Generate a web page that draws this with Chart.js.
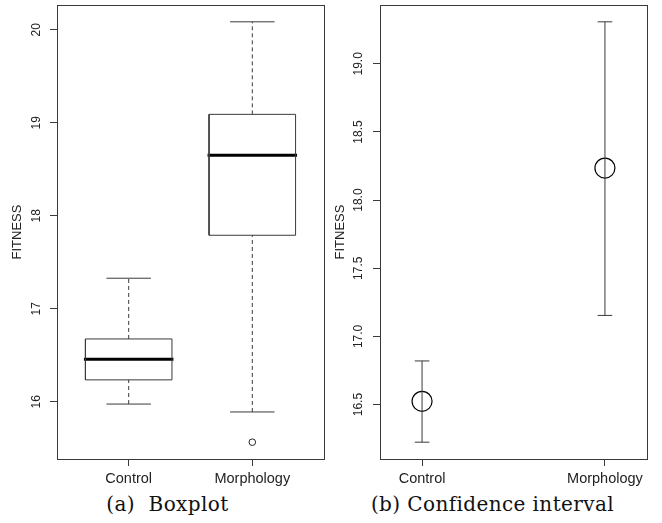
<!DOCTYPE html>
<html>
<head>
<meta charset="utf-8">
<script src="https://cdn.jsdelivr.net/npm/chart.js@4/dist/chart.umd.min.js"></script>
<style>
  body { margin: 0; background: #fff; }
  #wrap { position: relative; width: 662px; height: 523px; background: #fff; }
  canvas { position: absolute; top: 0; }
  .caption {
    position: absolute;
    top: 491px;
    width: 331px;
    text-align: center;
    font-family: "DejaVu Serif", serif;
    font-size: 20px;
    letter-spacing: 0.4px;
    line-height: 26px;
    color: #111;
  }
</style>
</head>
<body>
<div id="wrap">
  <canvas id="boxChart" width="331" height="490" style="left:0"></canvas>
  <canvas id="ciChart" width="331" height="490" style="left:331px"></canvas>
  <div class="caption" style="left:2px">(a)&nbsp; Boxplot</div>
  <div class="caption" style="left:327px">(b) Confidence interval</div>
</div>

<script>
const categories = ["Control", "Morphology"];

// boxplot (a)
const whiskerLow = [15.975, 15.89];
const boxQ1 = [16.235, 17.79];
const boxMedian = [16.457, 18.65];
const boxQ3 = [16.675, 19.09];
const whiskerHigh = [17.328, 20.085];
const outliers = [[], [15.565]];
const boxTicks = [16, 17, 18, 19, 20];

// confidence interval (b)
const ciMean = [16.524, 18.235];
const ciLower = [16.224, 17.154];
const ciUpper = [16.82, 19.308];
const ciTicks = [16.5, 17.0, 17.5, 18.0, 18.5, 19.0];

const lineColor = "#3a3a3a";
const sansFont = "'Liberation Sans', Arial, sans-serif";

Chart.defaults.font.family = sansFont;
Chart.defaults.color = "#222";

// frame round the plot region + vertical y tick labels, R style
const framePlugin = {
  id: "frame",
  afterDraw(chart, args, opts) {
    const { ctx, chartArea: a } = chart;
    const y = chart.scales.y;
    ctx.save();
    ctx.strokeStyle = lineColor;
    ctx.lineWidth = 1;
    ctx.strokeRect(a.left + 0.5, a.top + 0.5, a.right - a.left, a.bottom - a.top);
    ctx.font = "12px " + sansFont;
    ctx.fillStyle = "#222";
    ctx.textAlign = "center";
    ctx.textBaseline = "middle";
    y.ticks.forEach((t) => {
      const py = y.getPixelForValue(t.value);
      ctx.save();
      ctx.translate(opts.labelX, py);
      ctx.rotate(-Math.PI / 2);
      ctx.fillText(t.value.toFixed(opts.decimals), 0, 0);
      ctx.restore();
    });
    ctx.restore();
  },
};

function seg(points, extra) {
  return Object.assign(
    {
      data: points,
      showLine: true,
      pointRadius: 0,
      borderColor: lineColor,
      borderWidth: 1,
      fill: false,
    },
    extra || {}
  );
}

function paddedRange(values) {
  const lo = Math.min(...values);
  const hi = Math.max(...values);
  const pad = (hi - lo) * 0.04;
  return [lo - pad, hi + pad];
}

function axes(xMin, xMax, yMin, yMax, yTicks, yWidth, titlePad) {
  return {
    x: {
      type: "linear",
      min: xMin,
      max: xMax,
      afterBuildTicks: (scale) => {
        scale.ticks = categories.map((c, i) => ({ value: i + 1 }));
      },
      afterFit: (scale) => {
        scale.height = 31;
      },
      ticks: {
        font: { size: 14.5 },
        padding: 4,
        callback: (v) => categories[v - 1],
      },
      grid: {
        drawOnChartArea: false,
        drawTicks: true,
        tickLength: 7,
        color: lineColor,
      },
      border: { display: false },
    },
    y: {
      type: "linear",
      min: yMin,
      max: yMax,
      afterBuildTicks: (scale) => {
        scale.ticks = yTicks.map((v) => ({ value: v }));
      },
      afterFit: (scale) => {
        scale.width = yWidth;
      },
      ticks: { display: false },
      grid: {
        drawOnChartArea: false,
        drawTicks: true,
        tickLength: 7,
        color: lineColor,
      },
      border: { display: false },
      title: {
        display: true,
        text: "FITNESS",
        font: { size: 13 },
        padding: { top: titlePad, bottom: 0 },
      },
    },
  };
}

// ---- (a) Boxplot ----
const boxSets = [];
const boxHalf = 0.35;
const capHalf = 0.18;
const dash = [4, 3];
categories.forEach((c, i) => {
  const x = i + 1;
  boxSets.push(seg([{ x: x, y: boxQ3[i] }, { x: x, y: whiskerHigh[i] }], { borderDash: dash }));
  boxSets.push(seg([{ x: x, y: whiskerLow[i] }, { x: x, y: boxQ1[i] }], { borderDash: dash }));
  boxSets.push(seg([{ x: x - capHalf, y: whiskerHigh[i] }, { x: x + capHalf, y: whiskerHigh[i] }]));
  boxSets.push(seg([{ x: x - capHalf, y: whiskerLow[i] }, { x: x + capHalf, y: whiskerLow[i] }]));
  boxSets.push(
    seg([
      { x: x - boxHalf, y: boxQ1[i] },
      { x: x + boxHalf, y: boxQ1[i] },
      { x: x + boxHalf, y: boxQ3[i] },
      { x: x - boxHalf, y: boxQ3[i] },
      { x: x - boxHalf, y: boxQ1[i] },
    ])
  );
  boxSets.push(
    seg([{ x: x - boxHalf, y: boxMedian[i] }, { x: x + boxHalf, y: boxMedian[i] }], {
      borderColor: "#000",
      borderWidth: 3,
      borderCapStyle: "square",
    })
  );
  if (outliers[i].length) {
    boxSets.push({
      data: outliers[i].map((v) => ({ x: x, y: v })),
      showLine: false,
      pointStyle: "circle",
      pointRadius: 3.3,
      pointBackgroundColor: "transparent",
      pointBorderColor: "#222",
      pointBorderWidth: 1,
    });
  }
});

const boxAll = whiskerLow.concat(whiskerHigh, outliers.flat());
const boxRange = paddedRange(boxAll);
const boxX = paddedRange([0.5, categories.length + 0.5]);

new Chart(document.getElementById("boxChart"), {
  type: "scatter",
  data: { datasets: boxSets },
  options: {
    responsive: false,
    animation: false,
    layout: { autoPadding: false, padding: { top: 5, right: 7, left: 0, bottom: 0 } },
    plugins: {
      legend: { display: false },
      tooltip: { enabled: false },
      frame: { labelX: 37, decimals: 0 },
    },
    scales: axes(boxX[0], boxX[1], boxRange[0], boxRange[1], boxTicks, 57, 10),
  },
  plugins: [framePlugin],
});

// ---- (b) Confidence interval ----
const ciSets = [];
const ciCap = 0.04;
categories.forEach((c, i) => {
  const x = i + 1;
  ciSets.push(seg([{ x: x, y: ciLower[i] }, { x: x, y: ciUpper[i] }]));
  ciSets.push(seg([{ x: x - ciCap, y: ciUpper[i] }, { x: x + ciCap, y: ciUpper[i] }]));
  ciSets.push(seg([{ x: x - ciCap, y: ciLower[i] }, { x: x + ciCap, y: ciLower[i] }]));
});
ciSets.push({
  data: ciMean.map((v, i) => ({ x: i + 1, y: v })),
  showLine: false,
  pointStyle: "circle",
  pointRadius: 10,
  pointBackgroundColor: "transparent",
  pointBorderColor: "#000",
  pointBorderWidth: 1.2,
});

const ciRange = paddedRange(ciLower.concat(ciUpper));

new Chart(document.getElementById("ciChart"), {
  type: "scatter",
  data: { datasets: ciSets },
  options: {
    responsive: false,
    animation: false,
    layout: { autoPadding: false, padding: { top: 5, right: 15, left: 0, bottom: 0 } },
    plugins: {
      legend: { display: false },
      tooltip: { enabled: false },
      frame: { labelX: 28, decimals: 1 },
    },
    scales: axes(0.77, 2.23, ciRange[0], ciRange[1], ciTicks, 49, 2),
  },
  plugins: [framePlugin],
});
</script>
</body>
</html>
